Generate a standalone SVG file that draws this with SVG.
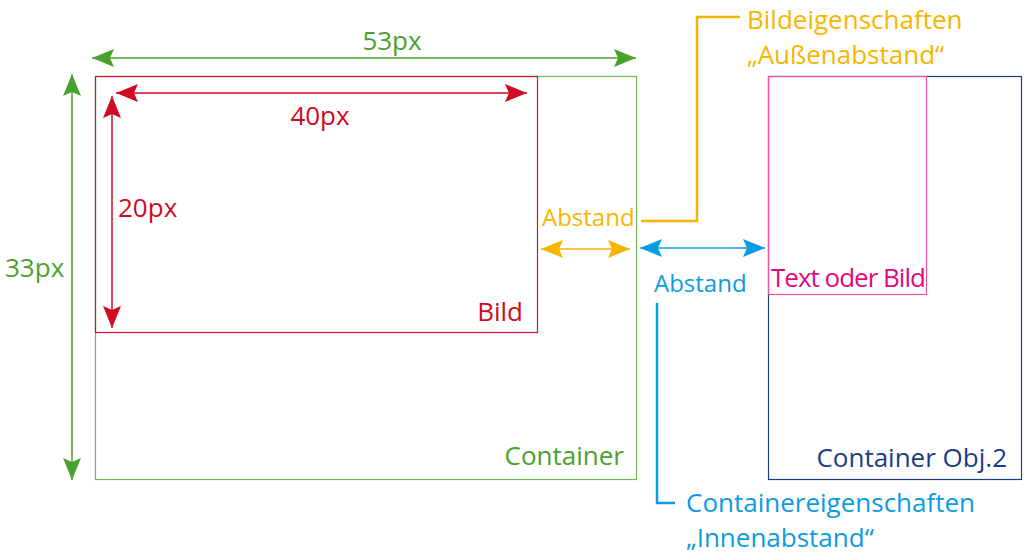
<svg xmlns="http://www.w3.org/2000/svg" width="1025" height="555" viewBox="0 0 1025 555">
  <style>
    text { font-family: "Open Sans", "Liberation Sans", sans-serif; font-size: 26px; }
    .small { font-size: 24px; }
    .green { fill: #4aa12e; }
    .red { fill: #cf0a22; }
    .orange { fill: #f7b500; }
    .blue { fill: #0b9be0; }
    .navy { fill: #1b3d85; }
    .pink { fill: #e2087c; }
    .box { fill: none; stroke-width: 1.2; }
    .dim { fill: none; stroke-width: 1.5; }
    .lead { fill: none; stroke-width: 2.5; }
  </style>
  <defs>
    <marker id="ah-green" viewBox="0 0 22 18" refX="22" refY="9" markerWidth="22" markerHeight="18" markerUnits="userSpaceOnUse" orient="auto-start-reverse">
      <path d="M0,0 L22,9 L0,18 L4,9 Z" fill="#4aa12e"/>
    </marker>
    <marker id="ah-red" viewBox="0 0 22 18" refX="22" refY="9" markerWidth="22" markerHeight="18" markerUnits="userSpaceOnUse" orient="auto-start-reverse">
      <path d="M0,0 L22,9 L0,18 L4,9 Z" fill="#cf0a22"/>
    </marker>
    <marker id="ah-orange" viewBox="0 0 22 18" refX="22" refY="9" markerWidth="22" markerHeight="18" markerUnits="userSpaceOnUse" orient="auto-start-reverse">
      <path d="M0,0 L22,9 L0,18 L4,9 Z" fill="#f7b500"/>
    </marker>
    <marker id="ah-blue" viewBox="0 0 22 18" refX="22" refY="9" markerWidth="22" markerHeight="18" markerUnits="userSpaceOnUse" orient="auto-start-reverse">
      <path d="M0,0 L22,9 L0,18 L4,9 Z" fill="#0b9be0"/>
    </marker>
  </defs>

  <rect width="1025" height="555" fill="#ffffff"/>

  <!-- outer container -->
  <g id="container">
    <rect class="box" x="95.5" y="76.5" width="541" height="403" stroke="#6dba52"/>
    <text class="green" x="624" y="465" text-anchor="end">Container</text>
  </g>

  <!-- image inside the container -->
  <g id="bild">
    <rect class="box" x="95.5" y="76.5" width="442" height="256" stroke="#d2112a"/>
    <text class="red" x="523" y="321" text-anchor="end">Bild</text>
  </g>

  <!-- second container with its content -->
  <g id="container-obj2">
    <rect class="box" x="768.5" y="76.5" width="253" height="403" stroke="#1b3d85"/>
    <text class="navy" x="1007" y="467" text-anchor="end">Container Obj.2</text>
  </g>
  <g id="text-oder-bild">
    <rect class="box" x="768.5" y="76.5" width="158" height="218" stroke="#e8559c"/>
    <text class="pink" x="771" y="287" letter-spacing="-1">Text oder Bild</text>
  </g>

  <!-- labels -->
  <g id="label-53px"><text class="green" x="392" y="50" text-anchor="middle">53px</text></g>
  <g id="label-33px"><text class="green" x="5" y="277">33px</text></g>
  <g id="label-40px"><text class="red" x="320" y="125" text-anchor="middle">40px</text></g>
  <g id="label-20px"><text class="red" x="118" y="217">20px</text></g>
  <g id="label-abstand-aussen"><text class="orange small" x="542" y="226">Abstand</text></g>
  <g id="label-abstand-innen"><text class="blue small" x="654" y="292">Abstand</text></g>
  <g id="label-bildeigenschaften">
    <text class="orange" x="747" y="29">Bildeigenschaften</text>
    <text class="orange" x="747" y="64">„Außenabstand“</text>
  </g>
  <g id="label-containereigenschaften">
    <text class="blue" x="686" y="512">Containereigenschaften</text>
    <text class="blue" x="686" y="547">„Innenabstand“</text>
  </g>

  <!-- dimension arrows and leader lines -->
  <g id="connectors">
    <line class="dim" x1="92" y1="58" x2="636" y2="58" stroke="#4aa12e" marker-start="url(#ah-green)" marker-end="url(#ah-green)"/>
    <line class="dim" x1="72" y1="74" x2="72" y2="480" stroke="#4aa12e" marker-start="url(#ah-green)" marker-end="url(#ah-green)"/>
    <line class="dim" x1="116" y1="93" x2="527" y2="93" stroke="#cf0a22" marker-start="url(#ah-red)" marker-end="url(#ah-red)"/>
    <line class="dim" x1="112" y1="96" x2="112" y2="328" stroke="#cf0a22" marker-start="url(#ah-red)" marker-end="url(#ah-red)"/>
    <line class="dim" x1="541" y1="249" x2="630" y2="249" stroke="#f7b500" marker-start="url(#ah-orange)" marker-end="url(#ah-orange)"/>
    <line class="dim" x1="640" y1="248" x2="765" y2="248" stroke="#0b9be0" marker-start="url(#ah-blue)" marker-end="url(#ah-blue)"/>
    <polyline class="lead" points="641,221 697,221 697,17 740,17" stroke="#f7b500"/>
    <polyline class="lead" points="657,303 657,503 675,503" stroke="#0b9be0"/>
  </g>
</svg>
